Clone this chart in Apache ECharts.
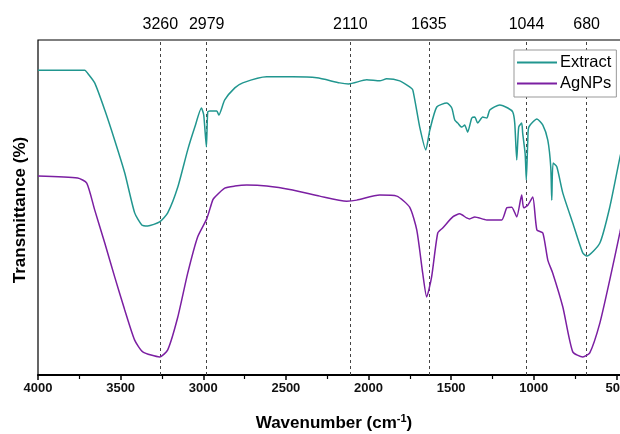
<!DOCTYPE html>
<html><head><meta charset="utf-8">
<script src="https://cdn.jsdelivr.net/npm/echarts@6/dist/echarts.min.js"></script>
<style>html,body{margin:0;padding:0;background:#fff}#c{width:620px;height:434px}</style>
</head><body><div id="c"></div>
<script>
const seriesNames = ['Extract', 'AgNPs'];
const peakLabels = [3260, 2979, 2110, 1635, 1044, 680];
const xTicks = [4000, 3500, 3000, 2500, 2000, 1500, 1000, 500];

const extractWn = [4000,3717,3705,3657,3596,3536,3475,3415,3372,3336,3264,3215,3154,3094,3051,3011,2997,2981,2973,2961,2918,2906,2870,2809,2761,2616,2459,2313,2174,2120,2011,1932,1890,1811,1751,1732,1690,1653,1629,1587,1526,1496,1478,1460,1436,1418,1400,1375,1357,1339,1309,1284,1266,1206,1157,1127,1115,1103,1091,1073,1067,1052,1045,1036,1030,981,945,915,897,891,883,860,824,764,703,679,600,540,479,430];
const extractT = [91.0,91.0,90.4,87.2,79.1,70.1,60.3,48.4,44.8,44.5,45.7,48.4,56.1,67.2,74.0,79.7,77.6,68.1,78.5,78.8,78.8,77.6,82.1,85.7,87.2,89.0,89.0,88.7,87.2,86.9,88.1,87.8,88.4,87.8,86.0,85.1,74.0,67.2,73.1,80.0,81.2,79.7,76.1,75.2,74.0,74.6,72.5,76.7,77.0,75.2,77.0,76.7,79.1,80.6,79.7,78.5,75.2,64.2,74.0,75.2,72.2,66.0,58.2,70.0,74.0,76.4,74.6,70.1,62.0,52.2,63.3,62.1,54.3,45.4,36.4,35.5,39.4,50.1,64.8,75.0];

const agnpsWn = [4000,3760,3705,3657,3596,3536,3475,3415,3366,3264,3215,3154,3094,3034,2979,2943,2930,2870,2809,2737,2616,2459,2295,2132,2071,1932,1829,1751,1708,1672,1648,1618,1581,1551,1490,1448,1406,1388,1357,1284,1194,1163,1133,1103,1073,1061,1036,1006,981,945,915,885,824,764,703,661,600,540,479,430];
const agnpsT = [59.4,58.8,57.3,49.3,39.4,29.3,19.4,10.4,6.9,5.4,7.5,17.3,30.4,41.2,46.6,52.2,53.1,55.8,56.4,56.7,56.4,55.2,53.4,51.9,52.2,53.7,53.4,50.1,43.3,30.4,23.3,29.3,42.4,43.9,47.2,48.1,46.9,46.6,47.2,46.3,46.3,49.9,50.1,47.2,53.7,49.9,50.7,53.1,43.3,42.4,34.3,30.4,20.3,6.9,5.4,6.6,15.5,28.4,42.4,55.0];

const colors = ['#21968f', '#7b1fa2'];
const font = 'Liberation Sans, Arial, sans-serif';

const chart = echarts.init(document.getElementById('c'), null, {renderer: 'canvas'});
chart.setOption({
  animation: false,
  backgroundColor: '#fff',
  grid: {left: 38, width: 661, top: 40, bottom: 59, containLabel: false, outerBoundsMode: 'none',
    show: true, borderColor: '#000', borderWidth: 1.2, backgroundColor: 'transparent'},
  legend: {
    data: seriesNames, orient: 'vertical', left: 514, top: 50, z: 20,
    backgroundColor: '#fff', borderColor: '#999', borderWidth: 1,
    padding: [4, 5, 5, 3], itemGap: 4, itemWidth: 40, itemHeight: 2, icon: 'rect',
    textStyle: {fontFamily: font, fontSize: 16.5, color: '#000', padding: [0, 0, 0, -2]}
  },
  xAxis: {
    type: 'value', min: 0, max: 4000, interval: 500, inverse: true,
    axisLine: {show: true, lineStyle: {color: '#000', width: 2}},
    axisTick: {show: true, inside: false, length: 5, lineStyle: {color: '#000', width: 1.5}},
    minorTick: {show: true, splitNumber: 2, length: 4, lineStyle: {color: '#000', width: 1.2}},
    splitLine: {show: false},
    axisLabel: {
      fontFamily: font, fontSize: 13, fontWeight: 'bold', color: '#111', margin: 7,
      formatter: v => xTicks.indexOf(v) >= 0 ? String(v) : ''
    }
  },
  yAxis: {
    type: 'value', min: 0, max: 100,
    axisLine: {show: true, lineStyle: {color: '#000', width: 2}},
    axisTick: {show: false}, axisLabel: {show: false}, splitLine: {show: false}
  },
  graphic: [
    {type: 'text', x: 334, y: 423, style: {
      text: 'Wavenumber (cm{s|-1})', align: 'center', verticalAlign: 'middle',
      rich: {s: {fontSize: 11, fontWeight: 'bold', fontFamily: font, verticalAlign: 'top', padding: [0, 0, 8, 0]}},
      font: 'bold 17px Liberation Sans, Arial, sans-serif', fill: '#000'}},
    {type: 'text', x: 20, y: 210, rotation: Math.PI / 2, style: {
      text: 'Transmittance (%)', align: 'center', verticalAlign: 'middle',
      font: 'bold 17px Liberation Sans, Arial, sans-serif', fill: '#000'}}
  ],
  series: [
    {
      name: seriesNames[0], type: 'line', showSymbol: false, symbol: 'none',
      smooth: 0.2,
      data: extractWn.map((w, i) => [w, extractT[i]]),
      lineStyle: {color: colors[0], width: 1.5}, itemStyle: {color: colors[0]}, z: 3,
      markLine: {
        silent: true, symbol: ['none', 'none'], animation: false, z: 1,
        lineStyle: {color: '#444', width: 1, type: [3, 3]},
        label: {show: true, position: 'end', distance: 7, formatter: p => String(p.value),
          fontFamily: font, fontSize: 16, color: '#000'},
        data: peakLabels.map(p => ({xAxis: p}))
      }
    },
    {
      name: seriesNames[1], type: 'line', showSymbol: false, symbol: 'none',
      smooth: 0.2,
      data: agnpsWn.map((w, i) => [w, agnpsT[i]]),
      lineStyle: {color: colors[1], width: 1.5}, itemStyle: {color: colors[1]}, z: 3
    }
  ]
});
</script>
</body></html>
